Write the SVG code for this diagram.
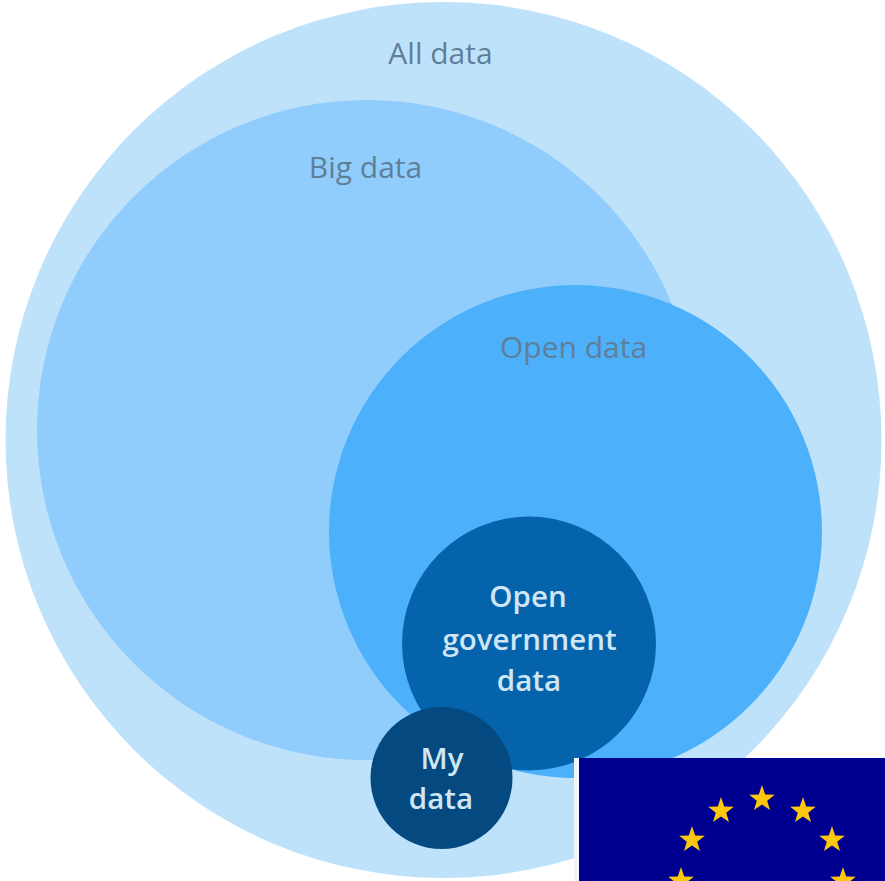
<svg xmlns="http://www.w3.org/2000/svg" xmlns:xlink="http://www.w3.org/1999/xlink" width="885" height="881" viewBox="0 0 885 881">
<style>
text{font-family:"Open Sans","Noto Sans","Liberation Sans",sans-serif;font-size:30px;text-anchor:middle}
.dim{fill:#5f7f99}
.lite{fill:#cfe6f5;font-weight:600;font-size:29.500px}
</style>
<defs>
<polygon id="star" points="0,-14 3.2,-4.500 12.800,-4.300 5.200,1.700 8,11 0,5.600 -8,11 -5.200,1.700 -12.800,-4.300 -3.200,-4.500" fill="#fdc70c"/>
</defs>
<rect width="885" height="881" fill="#fff"/>
<g id="all-data"><circle cx="443.500" cy="440" r="438" fill="#bfe2fb"/><text class="dim" x="440.500" y="64">All data</text></g>
<g id="big-data"><circle cx="367" cy="430" r="330" fill="#90cdfd"/><text class="dim" x="365.500" y="178">Big data</text></g>
<g id="open-data"><circle cx="575.500" cy="531.500" r="246.500" fill="#4db0fb"/><text class="dim" x="573.500" y="358">Open data</text></g>
<g id="open-government-data"><circle cx="529" cy="643.500" r="127" fill="#0563ab"/><text class="lite" x="528" y="607">Open</text><text class="lite" x="529.500" y="650">government</text><text class="lite" x="529" y="691">data</text></g>
<g id="my-data"><circle cx="441.500" cy="778" r="71" fill="#044a80"/><text class="lite" x="442" y="769">My</text><text class="lite" x="441" y="809">data</text></g>
<g id="connectors"></g>
<g id="eu-flag">
<rect x="574" y="758" width="5" height="123" fill="#f2f5f8"/>
<rect x="579" y="758" width="306" height="123" fill="#000090"/>
<use xlink:href="#star" href="#star" x="762" y="799"/>
<use xlink:href="#star" href="#star" x="721" y="811"/>
<use xlink:href="#star" href="#star" x="803" y="811"/>
<use xlink:href="#star" href="#star" x="692" y="840"/>
<use xlink:href="#star" href="#star" x="832" y="840"/>
<use xlink:href="#star" href="#star" x="681" y="881"/>
<use xlink:href="#star" href="#star" x="843" y="881"/>
</g>
</svg>
